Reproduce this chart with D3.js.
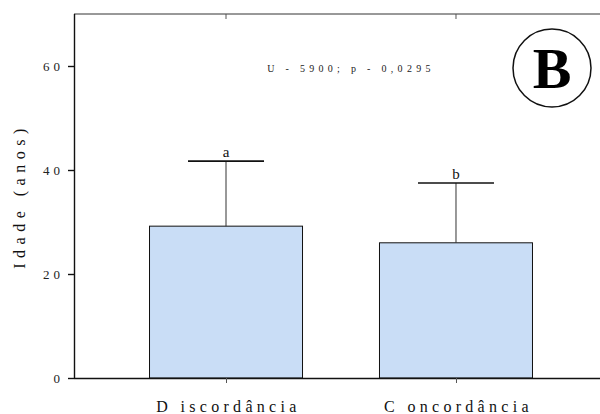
<!DOCTYPE html>
<html>
<head>
<meta charset="utf-8">
<script src="https://cdn.jsdelivr.net/npm/d3@7"></script>
<style>
  html, body { margin: 0; padding: 0; background: #fff; }
  svg, svg text { font-family: "Liberation Serif", "Times New Roman", serif !important; }
</style>
</head>
<body>
<svg id="chart" width="600" height="414"></svg>
<script>
// Age by group (mean with SD whisker)
const categories = ["D iscordância", "C oncordância"];
const means = [29.2, 26.0];
const upperSD = [41.7, 37.5];
const letters = ["a", "b"];
const yTicks = [0, 20, 40, 60];
const statText = "U - 5900; p - 0,0295";
const panelLetter = "B";

const svg = d3.select("#chart");
const plotLeft = 74, plotTop = 14, plotRight = 608, plotBottom = 378;

const x = d3.scalePoint().domain(categories).range([plotLeft, plotRight]).padding(0.661);
const y = d3.scaleLinear().domain([0, 70]).range([plotBottom, plotTop]);
const barW = 153, capHalf = 38;

// bars
svg.selectAll("rect.bar").data(categories).join("rect")
  .attr("class", "bar")
  .attr("x", d => x(d) - barW / 2)
  .attr("y", (d, i) => y(means[i]))
  .attr("width", barW)
  .attr("height", (d, i) => y(0) - y(means[i]))
  .attr("fill", "#c9ddf6")
  .attr("stroke", "#111")
  .attr("stroke-width", 1);

// whiskers
svg.selectAll("line.err").data(categories).join("line")
  .attr("class", "err")
  .attr("x1", d => x(d)).attr("x2", d => x(d))
  .attr("y1", (d, i) => y(means[i])).attr("y2", (d, i) => y(upperSD[i]))
  .attr("stroke", "#333").attr("stroke-width", 1);
svg.selectAll("line.cap").data(categories).join("line")
  .attr("class", "cap")
  .attr("x1", d => x(d) - capHalf).attr("x2", d => x(d) + capHalf)
  .attr("y1", (d, i) => y(upperSD[i])).attr("y2", (d, i) => y(upperSD[i]))
  .attr("stroke", "#111").attr("stroke-width", 1.6);
svg.selectAll("text.sig").data(categories).join("text")
  .attr("class", "sig")
  .attr("x", d => x(d)).attr("y", (d, i) => y(upperSD[i]) - 4)
  .attr("text-anchor", "middle").attr("font-size", 15).attr("fill", "#111")
  .text((d, i) => letters[i]);

// frame
svg.append("line").attr("x1", plotLeft).attr("x2", plotRight).attr("y1", plotTop).attr("y2", plotTop)
  .attr("stroke", "#333").attr("stroke-width", 1);

// y axis
const yAxis = svg.append("g").attr("transform", `translate(${plotLeft},0)`)
  .call(d3.axisLeft(y).tickValues(yTicks).tickSize(6).tickPadding(8).tickFormat(d3.format("d")));
yAxis.select(".domain").attr("d", `M0.5,${plotBottom}V${plotTop}`).attr("stroke", "#111").attr("stroke-width", 1.4);
yAxis.selectAll(".tick line").attr("stroke", "#111").attr("stroke-width", 1.4);
yAxis.selectAll(".tick text")
  .attr("font-size", 13).attr("dx", 4)
  .attr("letter-spacing", 4).attr("fill", "#222");

// x axis
const xAxis = svg.append("g").attr("transform", `translate(0,${plotBottom})`)
  .call(d3.axisBottom(x).tickSize(5).tickPadding(18));
xAxis.select(".domain").attr("d", `M${plotLeft},0.5H${plotRight}`).attr("stroke", "#111").attr("stroke-width", 1.4);
xAxis.selectAll(".tick line").attr("stroke", "#555");
xAxis.selectAll(".tick text")
  .attr("font-size", 16).attr("dx", 2)
  .attr("letter-spacing", 4.3).attr("fill", "#111");

// mirrored ticks on top
svg.selectAll("line.topTick").data(categories).join("line")
  .attr("class", "topTick")
  .attr("x1", d => x(d)).attr("x2", d => x(d))
  .attr("y1", plotTop).attr("y2", plotTop + 5)
  .attr("stroke", "#555");

// y label
svg.append("text")
  .attr("transform", `translate(25,${(plotTop + plotBottom) / 2}) rotate(-90)`)
  .attr("text-anchor", "middle").attr("font-size", 16)
  .attr("letter-spacing", 5.5).attr("fill", "#111")
  .text("Idade (anos)");

// statistic
svg.append("text")
  .attr("x", 351).attr("y", 72).attr("text-anchor", "middle")
  .attr("font-size", 10).attr("letter-spacing", 4.3).attr("fill", "#222")
  .text(statText);

// panel letter
svg.append("circle").attr("cx", 552).attr("cy", 68).attr("r", 39)
  .attr("fill", "none").attr("stroke", "#111").attr("stroke-width", 1.5);
svg.append("text").attr("x", 552).attr("y", 88).attr("text-anchor", "middle")
  .attr("font-size", 58).attr("font-weight", "bold").attr("fill", "#000")
  .text(panelLetter);
</script>
</body>
</html>
